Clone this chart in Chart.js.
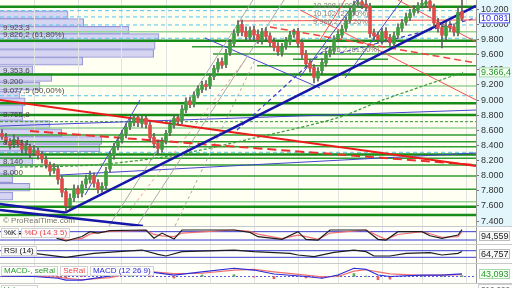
<!DOCTYPE html>
<html>
<head>
<meta charset="utf-8">
<title>IBEX diario</title>
<script src="https://cdn.jsdelivr.net/npm/chart.js@4.4.1/dist/chart.umd.min.js"></script>
<style>
  html, body { margin: 0; padding: 0; background: #fff; }
  #wrap { position: relative; width: 512px; height: 288px; overflow: hidden; font-family: "Liberation Sans", Arial, sans-serif; }
  .abs { position: absolute; }
  canvas { position: absolute; left: 0; display: block; }
  .hline { position: absolute; left: 0; width: 512px; height: 1px; background: #c9c9c9; }
  .lbls { position: absolute; left: 1px; display: flex; gap: 2px; font-size: 8px; line-height: 8px; white-space: nowrap; }
  .lbls span { background: rgba(255,255,255,0.92); border: 1px solid #d2d2d2; padding: 0 2px; }
</style>
</head>
<body>
<div id="wrap">
  <div class="abs" style="left:0;top:0;width:476px;height:227px;background:#fffff2"></div>
  <div class="abs" style="left:476px;top:0;width:36px;height:227px;background:#e2f6fb"></div>
  <div class="abs" style="left:0;top:227px;width:476px;height:61px;background:#fffffa"></div>
  <canvas id="profile" width="476" height="227" style="top:0"></canvas>
  <canvas id="price" width="512" height="227" style="top:0"></canvas>
  <canvas id="stoch" width="512" height="18" style="top:227px"></canvas>
  <canvas id="rsi" width="512" height="19" style="top:245px"></canvas>
  <canvas id="macd" width="512" height="20" style="top:264px"></canvas>
  <div class="hline" style="top:226px"></div>
  <div class="hline" style="top:244px"></div>
  <div class="hline" style="top:263px"></div>
  <div class="hline" style="top:283px"></div>
  <div class="abs" style="left:3px;top:216px;font-size:8px;color:#777">© ProRealTime.com</div>
  <div class="lbls" style="top:228px"><span style="color:#111">%K</span><span style="color:#e84848">%D (14 3 5)</span></div>
  <div class="lbls" style="top:246px"><span style="color:#111">RSI (14)</span></div>
  <div class="lbls" style="top:266px"><span style="color:#2a9a2a">MACD-, seRal</span><span style="color:#e84848">SeRal</span><span style="color:#2b2bd8">MACD (12 26 9)</span></div>
  <div class="lbls" style="top:285px"><span style="color:#2a8a2a">Volumen</span></div>
  <div class="abs" id="volTag" style="left:478px;top:284px;font-size:8px;color:#555;border:1px solid #ccc;padding:0 2px;background:#fff"></div>
</div>
<script>
// velas diarias (índice de sesión 0..115)
const opens = [8560,8510,8450,8410,8470,8430,8340,8380,8310,8330,
  8280,8210,8140,8070,8090,7960,7790,7610,7710,7830,
  7770,7890,7950,8000,7910,7830,7870,8090,8270,8390,
  8470,8550,8650,8700,8770,8690,8760,8670,8510,8430,
  8350,8460,8570,8670,8770,8730,8870,8990,8950,9070,
  9140,9210,9190,9310,9410,9510,9470,9630,9750,9890,
  10000,9910,9830,9930,9870,9790,9910,9850,9770,9710,
  9630,9710,9770,9870,9910,9760,9610,9490,9430,9290,
  9390,9490,9610,9650,9810,9860,9950,10060,10170,10270,
  10300,10270,10240,9890,9860,9790,9910,9830,9750,9860,
  9950,10030,10090,10160,10190,10260,10270,10310,10230,10030,
  9960,9850,9990,9970,9890,10170];
const highs = [8610,8560,8490,8540,8510,8470,8450,8420,8400,8370,
  8320,8260,8180,8160,8130,8000,7830,7760,7880,7870,
  7930,8010,8060,8040,7950,7910,8110,8320,8430,8510,
  8600,8690,8760,8800,8810,8790,8800,8710,8560,8470,
  8500,8600,8720,8800,8810,8930,9030,9040,9110,9190,
  9250,9260,9340,9460,9550,9560,9670,9800,9930,10050,
  10060,9970,9970,9980,9930,9950,9960,9890,9820,9760,
  9750,9830,9910,9940,9950,9800,9660,9540,9470,9430,
  9550,9650,9710,9850,9920,9990,10100,10230,10310,10350,
  10350,10320,10280,9940,9900,9950,9960,9870,9900,10010,
  10070,10150,10200,10250,10290,10330,10350,10350,10270,10080,
  10010,10030,10040,10010,10230,10320];
const lows = [8480,8420,8350,8370,8380,8300,8290,8240,8270,8220,
  8170,8100,8000,8030,7890,7720,7530,7560,7660,7710,
  7720,7840,7900,7850,7770,7780,7830,8050,8220,8340,
  8430,8500,8610,8660,8650,8640,8630,8450,8370,8290,
  8310,8420,8530,8630,8670,8690,8830,8900,8910,9030,
  9100,9130,9150,9270,9370,9420,9430,9590,9710,9850,
  9850,9790,9780,9800,9750,9740,9790,9710,9650,9590,
  9580,9670,9730,9830,9700,9550,9430,9370,9226,9250,
  9350,9450,9570,9610,9770,9820,9910,10020,10130,10230,
  10210,10180,9830,9800,9750,9740,9770,9720,9710,9820,
  9910,9990,10050,10120,10150,10220,10230,10180,9970,9900,
  9690,9800,9910,9850,9850,10050];
const closes = [8520,8460,8400,8480,8420,8350,8390,8300,8340,8270,
  8220,8150,8060,8100,7950,7780,7600,7700,7820,7760,
  7880,7960,8010,7900,7820,7860,8060,8280,8380,8460,
  8550,8640,8710,8760,8700,8750,8680,8500,8420,8360,
  8450,8560,8680,8760,8720,8880,8980,8940,9060,9150,
  9200,9180,9300,9420,9500,9460,9620,9760,9880,9990,
  9900,9840,9920,9860,9800,9900,9840,9760,9700,9640,
  9700,9780,9860,9900,9750,9600,9480,9420,9300,9380,
  9500,9600,9660,9800,9870,9940,10050,10180,10260,10290,
  10260,10230,9880,9850,9800,9900,9820,9760,9850,9960,
  10020,10100,10150,10200,10250,10280,10300,10220,10020,9950,
  9860,9980,9960,9900,10160,10081];

const tickValues = [7400, 7600, 7800, 8000, 8200, 8400, 8600, 8800, 9000, 9200, 9400, 9600, 9800, 10000, 10200];
const monthStarts = [8, 19, 30, 41, 52, 63, 74, 84, 95, 105, 116];

// niveles horizontales
const strongLevels = [10236, 9786, 9339, 8958, 8803, 8281, 7590, 7480];
const plainLevels = [8539, 8450, 8384, 8232, 8142, 7996, 7820];
const softLevels = [9905, 9187, 8631, 7656];
const partialLevels = [9707, 9610, 9540, 9455];
const partialFrom = [47.5, 52.75, 72.75, 63.75];
const partialTo = [118.5, 118.5, 96.5, 118.5];
const dashedGreenLevels = [8715];
const fiboLines = [10183, 10100, 9994, 9818, 9058, 8310];

// líneas de tendencia [sesión1, precio1, sesión2, precio2]
const redThick = [[-0.5, 9002, 118.5, 8129]];
const redThickDashed = [[7, 8592, 118.5, 8142]];
const redThin = [[58.75, 10047, 118.5, 10060], [74.5, 10192, 118.5, 9002], [99, 10324, 118.5, 9769], [79.5, 9795, 85.75, 10324]];
const redThinDashed = [[67, 9967, 118.5, 9491]];
const blueThick = [[15.75, 7513, 118.5, 10245], [-0.5, 7626, 15.75, 7513], [-0.5, 7547, 35.25, 7335]];
const blueThin = [[-0.5, 8657, 118.5, 8869], [14.5, 8010, 118.5, 8301], [20.75, 7744, 34.5, 9002],
  [50.75, 9822, 79.5, 9160], [74.5, 9306, 88.75, 10324], [85.75, 9293, 100, 10324]];
const blueDashed = [[58.75, 8605, 82, 9729], [84.5, 9623, 118.5, 10086]];
const greyLines = [[26.75, 7335, 62.75, 10324], [33.75, 7335, 70.5, 10324]];
const greyDashed = [[43.25, 7335, 63.25, 9530]];
const pinkDashed = [[32, 7544, 60.75, 9530]];

// media móvil (verde discontinua)
const maIdx = [4.5, 22.75, 42, 62, 83.75, 95.25, 115.25];
const maValues = [8115, 8142, 8261, 8486, 8764, 9002, 9366.4];

// perfil de volumen por precio
const profilePrices = [10344, 10225, 10106, 9994, 9875, 9749, 9630, 9498, 9379, 9246, 9107,
  9002, 8896, 8777, 8651, 8525, 8406, 8294, 8188, 8076, 7950, 7818, 7685, 7547];
const profileVolume = [143, 176, 271, 334, 326, 323, 174, 69, 109, 84, 42,
  53, 48, 48, 105, 130, 214, 210, 74, 69, 32, 27, 63, 27];

// etiquetas de Fibonacci
const fibLeftValues = [9923.3, 9826.2, 9353.6, 9200, 9077.5, 8765.8, 8393.1, 8140, 8000];
const fibLeftNotes = ['', '(61,80%)', '', '', '(50,00%)', '', '', '', ''];
const fibRightValues = [10208, 10102, 9996.2, 9626.2];
const fibRightNotes = ['(100,0%)', '(23,60%)', '(38,20%)', '(61,80%)'];
const fibRightAt = [77.75, 77.75, 77.75, 80];

// osciladores
const stochIdx = [0,7,12,14,16,20,22,24,27,36,38,40,43,45,58,62,64,70,74,76,79,82,91,94,96,99,105,107,110,114,115];
const stochK = [60,70,65,30,13,45,80,70,87,92,33,70,27,92,92,75,44,25,80,25,20,92,92,25,20,80,80,51,32,56,94.559];
const stochD = [58,68,68,45,20,32,62,74,82,90,60,50,45,70,92,82,62,30,55,45,25,70,92,50,25,60,80,65,40,45,80];
const stochBands = [20, 80];

const rsiIdx = [0,8,16,23,29,35,39,41,45,58,63,72,74,78,83,88,91,93,97,101,107,110,114,115];
const rsiValues = [52,54,30,54,64,74,48,38,64,74,64,54,44,34,60,74,64,38,38,54,58,44,54,64.757];
const rsiBands = [30, 70];

const macdIdx = [0,8,14,16,20,27,32,37,43,50,58,63,68,76,80,84,88,91,94,97,105,110,115];
const macdLine = [5,0,-30,-60,-60,8,100,80,25,80,140,110,42,0,-30,25,140,122,25,0,25,25,43.093];
const macdSignal = [8,4,-10,-30,-55,-20,50,85,50,55,110,120,80,25,-5,0,90,115,80,45,20,22,30];
const lastVolume = 210000;

function fmtEs(v, d) {
  const parts = Math.abs(v).toFixed(d).split('.');
  const intPart = parts[0].replace(/\B(?=(\d{3})+(?!\d))/g, '.');
  return (v < 0 ? '-' : '') + intPart + (parts[1] ? ',' + parts[1] : '');
}
function dec(v) { return Number.isInteger(v) ? 0 : 1; }

Chart.defaults.font.family = '"Liberation Sans", Arial, sans-serif';
Chart.defaults.plugins.legend.display = false;
Chart.defaults.plugins.tooltip.enabled = false;

const X_MIN = -0.5, X_MAX = 118.5;
const Y_MIN = 7322, Y_MAX = 10324;

function xScale() {
  return {
    type: 'linear', min: X_MIN, max: X_MAX, offset: false,
    grid: { color: '#e3e3e3', drawTicks: false, offset: false },
    border: { display: false },
    ticks: { display: false },
    afterBuildTicks: s => { s.ticks = monthStarts.map(v => ({ value: v })); },
    afterFit: s => { s.height = 0; }
  };
}

function seg(s, style) {
  return Object.assign({
    type: 'line', data: [{ x: s[0], y: s[1] }, { x: s[2], y: s[3] }],
    pointRadius: 0, borderWidth: 1, tension: 0, fill: false, order: 5
  }, style);
}
function level(p, from, to, style) { return seg([from, p, to, p], style); }

function drawTag(chart, value, text, color, border, bg) {
  const { ctx, chartArea } = chart;
  const y = chart.scales.y.getPixelForValue(value);
  const h = 10, w = 31;
  const top = Math.max(chartArea.top + 4, Math.min(chartArea.bottom - h - 1, y - h / 2));
  const left = chartArea.right + 3;
  ctx.save();
  ctx.fillStyle = bg;
  ctx.fillRect(left, top, w, h);
  ctx.strokeStyle = border;
  ctx.lineWidth = 1;
  ctx.strokeRect(left + 0.5, top + 0.5, w - 1, h - 1);
  ctx.fillStyle = color;
  ctx.font = '9px "Liberation Sans", Arial, sans-serif';
  ctx.textBaseline = 'middle';
  ctx.fillText(text, left + 2, top + h / 2 + 0.5);
  ctx.restore();
}

// perfil de volumen (debajo del gráfico de precios)
new Chart(document.getElementById('profile'), {
  type: 'bar',
  data: {
    datasets: [{
      data: profilePrices.map((p, i) => ({ x: profileVolume[i], y: p })),
      backgroundColor: 'rgba(206,206,242,0.85)', borderColor: '#9494d4', borderWidth: 1,
      barThickness: 8
    }]
  },
  options: {
    indexAxis: 'y', responsive: false, animation: false, events: [], devicePixelRatio: 1,
    layout: { padding: 0 },
    scales: {
      x: { type: 'linear', display: false, min: 0, max: 1000 },
      y: { type: 'linear', display: false, min: Y_MIN, max: Y_MAX }
    }
  }
});

// gráfico de precios
const datasets = [];
datasets.push({
  type: 'bar', data: closes.map((c, i) => ({ x: i, y: [opens[i], c] })),
  backgroundColor: closes.map((c, i) => c >= opens[i] ? '#3f9f3f' : '#df4b4b'),
  barThickness: 3, grouped: false, minBarLength: 1, order: 0
});
datasets.push({
  type: 'bar', data: closes.map((c, i) => ({ x: i, y: [lows[i], highs[i]] })),
  backgroundColor: '#5e5e5e', barThickness: 1, grouped: false, order: 1
});
strongLevels.forEach(p => datasets.push(level(p, X_MIN, X_MAX, { borderColor: '#178c17', borderWidth: 2.5, order: 8 })));
plainLevels.forEach(p => datasets.push(level(p, X_MIN, X_MAX, { borderColor: '#2f9d2f', borderWidth: 1.5, order: 8 })));
softLevels.forEach(p => datasets.push(level(p, X_MIN, X_MAX, { borderColor: '#96d296', borderWidth: 1.5, order: 9 })));
partialLevels.forEach((p, i) => datasets.push(level(p, partialFrom[i], partialTo[i], { borderColor: '#2f9d2f', borderWidth: 1.5, order: 8 })));
dashedGreenLevels.forEach(p => datasets.push(level(p, X_MIN, X_MAX, { borderColor: '#2f9d2f', borderWidth: 1, borderDash: [3, 2], order: 8 })));
fiboLines.forEach(p => datasets.push(level(p, X_MIN, X_MAX, { borderColor: '#55c3ee', borderWidth: 1, borderDash: [4, 3], order: 7 })));
greyLines.forEach(s => datasets.push(seg(s, { borderColor: '#a9a9a9' })));
greyDashed.forEach(s => datasets.push(seg(s, { borderColor: '#a9a9a9', borderDash: [3, 3] })));
pinkDashed.forEach(s => datasets.push(seg(s, { borderColor: '#f09a9a', borderDash: [3, 3] })));
redThin.forEach(s => datasets.push(seg(s, { borderColor: '#f05050' })));
redThinDashed.forEach(s => datasets.push(seg(s, { borderColor: '#ee4444', borderWidth: 1.5, borderDash: [7, 4] })));
blueThin.forEach(s => datasets.push(seg(s, { borderColor: '#4646cf' })));
blueDashed.forEach(s => datasets.push(seg(s, { borderColor: '#3c3cd6', borderWidth: 1.2, borderDash: [4, 3] })));
datasets.push({
  type: 'line', data: maIdx.map((x, i) => ({ x, y: maValues[i] })),
  borderColor: '#3d9f3d', borderWidth: 1.3, borderDash: [3, 2], pointRadius: 0, tension: 0.3, fill: false, order: 4
});
redThick.forEach(s => datasets.push(seg(s, { borderColor: '#ec1c1c', borderWidth: 2, order: 3 })));
redThickDashed.forEach(s => datasets.push(seg(s, { borderColor: '#ec3030', borderWidth: 2, borderDash: [9, 5], order: 3 })));
blueThick.forEach(s => datasets.push(seg(s, { borderColor: '#1616a8', borderWidth: 2.5, order: 2 })));

const priceLabels = {
  id: 'priceLabels',
  afterDatasetsDraw(chart) {
    const { ctx, scales: { x, y } } = chart;
    ctx.save();
    ctx.font = '8px "Liberation Sans", Arial, sans-serif';
    ctx.textBaseline = 'bottom';
    ctx.fillStyle = '#4a4a4a';
    fibLeftValues.forEach((v, i) => {
      const t = fmtEs(v, dec(v)) + (fibLeftNotes[i] ? ' ' + fibLeftNotes[i] : '');
      ctx.fillText(t, 3, y.getPixelForValue(v) + 1);
    });
    ctx.fillStyle = '#808080';
    ctx.font = '7.5px "Liberation Sans", Arial, sans-serif';
    fibRightValues.forEach((v, i) => {
      const t = fmtEs(v, dec(v)) + ' ' + fibRightNotes[i];
      ctx.fillText(t, x.getPixelForValue(fibRightAt[i]), y.getPixelForValue(v) + 1);
    });
    ctx.restore();
    const last = closes[closes.length - 1];
    drawTag(chart, last, fmtEs(last, 0), '#2b2bd8', '#4b4be0', '#ffffff');
    const ma = maValues[maValues.length - 1];
    drawTag(chart, ma, fmtEs(ma, 1), '#2a962a', '#a6d6a6', '#f4fff4');
  }
};

new Chart(document.getElementById('price'), {
  type: 'bar',
  data: { datasets },
  options: {
    responsive: false, animation: false, events: [], devicePixelRatio: 1,
    layout: { padding: 0 },
    scales: {
      x: xScale(),
      y: {
        type: 'linear', position: 'right', min: Y_MIN, max: Y_MAX,
        afterBuildTicks: s => { s.ticks = tickValues.map(v => ({ value: v })); },
        afterFit: s => { s.width = 36; s.paddingTop = 0; s.paddingBottom = 0; },
        grid: { drawOnChartArea: false, drawTicks: true, tickLength: 3, color: '#777' },
        border: { display: true, color: '#9a9a9a' },
        ticks: { padding: 2, color: '#333', autoSkip: false, font: { size: 9 }, callback: v => fmtEs(v, 0) }
      }
    }
  },
  plugins: [priceLabels]
});

// paneles inferiores
function bandSets(bands) {
  return bands.map(b => level(b, X_MIN, X_MAX, { borderColor: '#3a3ad0', borderWidth: 1, order: 6 }));
}
function panel(id, min, max, ds, tag) {
  return new Chart(document.getElementById(id), {
    type: 'line',
    data: { datasets: ds },
    options: {
      responsive: false, animation: false, events: [], devicePixelRatio: 1,
      layout: { padding: 0 },
      scales: {
        x: xScale(),
        y: {
          type: 'linear', position: 'right', min, max,
          ticks: { display: false }, grid: { display: false },
          border: { display: true, color: '#9a9a9a' },
          afterFit: s => { s.width = 36; s.paddingTop = 0; s.paddingBottom = 0; }
        }
      }
    },
    plugins: [{ id: 'tag', afterDatasetsDraw(chart) { drawTag(chart, tag.value, tag.text, tag.color, tag.border, tag.bg); } }]
  });
}
function series(idx, vals, style) {
  return Object.assign({ type: 'line', data: idx.map((x, i) => ({ x, y: vals[i] })), pointRadius: 0, borderWidth: 1.2, tension: 0, fill: false }, style);
}

const kLast = stochK[stochK.length - 1];
panel('stoch', -15.8, 113.7, [
  series(stochIdx, stochK, { borderColor: '#1e1e1e', order: 1 }),
  series(stochIdx, stochD, { borderColor: '#f07070', order: 2 }),
  ...bandSets(stochBands)
], { value: kLast, text: fmtEs(kLast, 3), color: '#222', border: '#bdbdbd', bg: '#f6f6f6' });

const rLast = rsiValues[rsiValues.length - 1];
panel('rsi', -10.6, 104.5, [
  series(rsiIdx, rsiValues, { borderColor: '#1e1e1e', order: 1 }),
  ...bandSets(rsiBands)
], { value: rLast, text: fmtEs(rLast, 3), color: '#222', border: '#bdbdbd', bg: '#f6f6f6' });

const mLast = macdLine[macdLine.length - 1];
const histo = macdLine.map((m, i) => m - macdSignal[i]);
panel('macd', -127.5, 212.5, [
  series(macdIdx, macdLine, { borderColor: '#2b2bd8', order: 1 }),
  series(macdIdx, macdSignal, { borderColor: '#f07070', order: 2 }),
  {
    type: 'bar', data: macdIdx.map((x, i) => ({ x, y: histo[i] })),
    backgroundColor: histo.map(h => h >= 0 ? '#55b055' : '#e06060'), barThickness: 2, grouped: false, order: 3
  },
  level(0, X_MIN, X_MAX, { borderColor: '#5a5ae0', borderWidth: 1, borderDash: [2, 2], order: 6 })
], { value: mLast, text: fmtEs(mLast, 3), color: '#2a962a', border: '#a6d6a6', bg: '#f4fff4' });

document.getElementById('volTag').textContent = fmtEs(lastVolume, 0);
</script>
</body>
</html>
